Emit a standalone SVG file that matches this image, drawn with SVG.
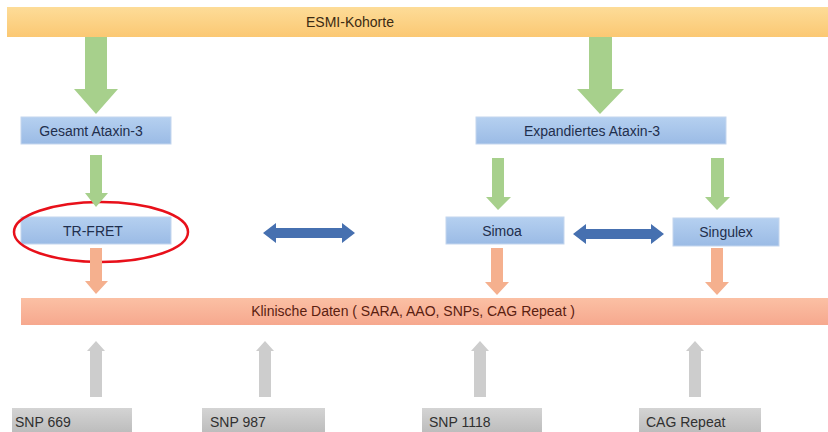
<svg xmlns="http://www.w3.org/2000/svg" width="828" height="432" viewBox="0 0 828 432">
<defs>
<linearGradient id="gTop" x1="0" y1="0" x2="0" y2="1"><stop offset="0" stop-color="#fddc98"/><stop offset="1" stop-color="#fbc873"/></linearGradient>
<linearGradient id="gBlue" x1="0" y1="0" x2="0" y2="1"><stop offset="0" stop-color="#b5d0f0"/><stop offset="1" stop-color="#9bbbe5"/></linearGradient>
<linearGradient id="gRed" x1="0" y1="0" x2="0" y2="1"><stop offset="0" stop-color="#fbc0a4"/><stop offset="1" stop-color="#f6a88e"/></linearGradient>
<linearGradient id="gGray" x1="0" y1="0" x2="0" y2="1"><stop offset="0" stop-color="#d4d4d4"/><stop offset="1" stop-color="#bdbdbd"/></linearGradient>
<style>
text{font-family:"Liberation Sans",Arial,sans-serif;font-size:14px}
.blue{fill:url(#gBlue);stroke:#c4d6ee;stroke-width:1}
.bt{fill:#1f2f4d;text-anchor:middle}
.gray{fill:url(#gGray)}
.gt{fill:#303030}
.green{fill:#a7d08c}
.orange{fill:#f5b08e}
.garrow{fill:#cdcdcd}
.barrow{fill:#4670b0}
</style>
</defs>
<g id="esmi">
<rect x="7" y="7" width="821" height="30" fill="url(#gTop)"/>
<text x="350" y="27" text-anchor="middle" fill="#3b2a12">ESMI-Kohorte</text>
</g>
<g id="klinisch">
<rect x="21" y="298" width="807" height="27" fill="url(#gRed)"/>
<text x="413" y="316" text-anchor="middle" fill="#5a2010" font-size="13.5">Klinische Daten ( SARA, AAO, SNPs, CAG Repeat )</text>
</g>
<g id="gesamt">
<rect class="blue" x="21" y="117" width="150" height="27"/>
<text class="bt" x="91" y="136">Gesamt Ataxin-3</text>
</g>
<g id="expand">
<rect class="blue" x="476" y="117" width="250" height="27"/>
<text class="bt" x="592" y="136">Expandiertes Ataxin-3</text>
</g>
<g id="trfret">
<rect class="blue" x="21" y="217" width="150" height="27"/>
<text class="bt" x="93" y="236">TR-FRET</text>
<ellipse cx="101" cy="232" rx="87" ry="30" fill="none" stroke="#e8101a" stroke-width="2.5"/>
</g>
<g id="simoa">
<rect class="blue" x="446" y="217" width="118" height="27"/>
<text class="bt" x="502" y="236">Simoa</text>
</g>
<g id="singulex">
<rect class="blue" x="673" y="218" width="106" height="28"/>
<text class="bt" x="726" y="237">Singulex</text>
</g>
<g id="snp669">
<rect class="gray" x="12" y="408" width="120" height="24"/>
<text class="gt" x="15" y="427">SNP 669</text>
</g>
<g id="snp987">
<rect class="gray" x="202" y="408" width="123" height="24"/>
<text class="gt" x="210" y="427">SNP 987</text>
</g>
<g id="snp1118">
<rect class="gray" x="422" y="408" width="120" height="24"/>
<text class="gt" x="429" y="427">SNP 1118</text>
</g>
<g id="cag">
<rect class="gray" x="639" y="408" width="122" height="24"/>
<text class="gt" x="646" y="427">CAG Repeat</text>
</g>
<g id="connectors">
<polygon class="green" points="85,37 107,37 107,89 118,89 96,114 74,89 85,89"/>
<polygon class="green" points="589,37 612,37 612,89 624,89 600,114 577,89 589,89"/>
<polygon class="green" points="90,155 102,155 102,193 108,193 96,207 85,193 90,193"/>
<polygon class="green" points="492,158 504,158 504,197 511,197 498,210 486,197 492,197"/>
<polygon class="green" points="711,158 724,158 724,197 730,197 717,210 705,197 711,197"/>
<polygon class="orange" points="90,248 102,248 102,281 108,281 96,294 85,281 90,281"/>
<polygon class="orange" points="491,248 503,248 503,282 509,282 497,295 485,282 491,282"/>
<polygon class="orange" points="711,248 723,248 723,282 729,282 717,295 705,282 711,282"/>
<polygon class="barrow" points="263,233 276,223 276,228 342,228 342,223 355,233 342,243 342,238 276,238 276,243"/>
<polygon class="barrow" points="573,234 586,224 586,229 651,229 651,224 664,234 651,244 651,239 586,239 586,244"/>
<polygon class="garrow" points="90,397 90,351 87,351 96,341 105,351 102,351 102,397"/>
<polygon class="garrow" points="259,397 259,351 256,351 265,341 274,351 271,351 271,397"/>
<polygon class="garrow" points="474,397 474,351 471,351 480,341 489,351 486,351 486,397"/>
<polygon class="garrow" points="689,397 689,351 686,351 695,341 704,351 701,351 701,397"/>
</g>
</svg>
